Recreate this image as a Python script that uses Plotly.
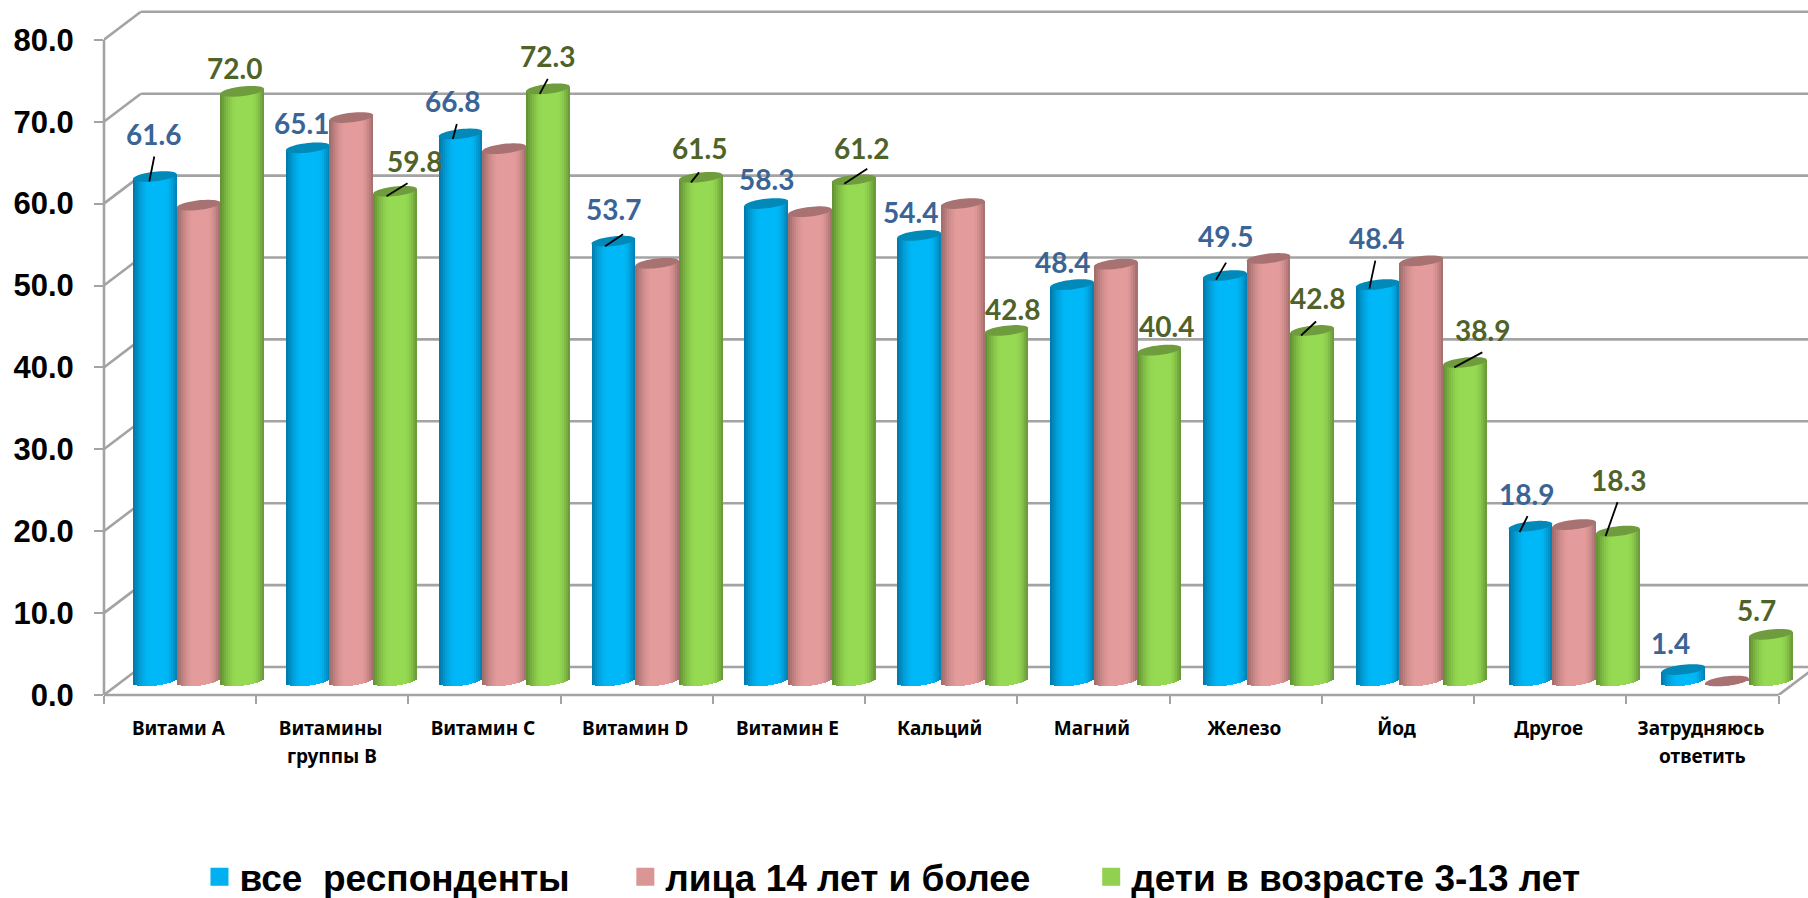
import math
import plotly.graph_objects as go

# ---------- data ----------
categories = ["Витами А", "Витамины", "Витамин С", "Витамин D", "Витамин Е", "Кальций",
              "Магний", "Железо", "Йод", "Другое", "Затрудняюсь"]
second_lines = {1: "группы В", 10: "ответить"}
series_names = ["все  респонденты", "лица 14 лет и более", "дети в возрасте 3-13 лет"]
all_respondents = [61.6, 65.1, 66.8, 53.7, 58.3, 54.4, 48.4, 49.5, 48.4, 18.9, 1.4]
adults_14_plus = [58.1, 68.8, 65.0, 51.0, 57.3, 58.3, 50.9, 51.6, 51.3, 19.1, 0.0]
children_3_13 = [72.0, 59.8, 72.3, 61.5, 61.2, 42.8, 40.4, 42.8, 38.9, 18.3, 5.7]
y_ticks = [0, 10, 20, 30, 40, 50, 60, 70, 80]

# ---------- label placement (pixel offsets from the bar top: label dx, dy, leader or None) ----------
blue_labels = [(-2, -43, (-6, 5, -1, -20)), (-6, -25, None), (-7, -33, (-7, 5, -3, -10)),
               (1, -32, (-7, 5, 11, -7)), (2, -25, None), (-6, -23, None), (-6, -23, None),
               (4, -40, (-5, 4, 5, -13)), (3, -47, (-4, 4, 2, -24)), (1, -32, (-6, 6, 2, -10)),
               (-7, -27, None)]
green_labels = [(-8, -23, None), (20, -30, (-8, 5, 13, -8)), (1, -33, (-7, 5, 1, -10)),
                (0, -29, (-8, 5, 0, -5)), (10, -32, (-7, 4, 16, -11)), (9, -21, None),
                (11, -24, None), (9, -32, (-7, 5, 8, -9)), (22, -32, (-6, 5, 22, -10)),
                (6, -51, (-7, 5, 5, -29)), (-8, -24, None)]

# ---------- geometry ----------
W, H = 1808, 898
PLOT_L, PLOT_B = 103.5, 695.0
CAT_PX = 152.3
BAR_PITCH = 152.9 / CAT_PX       # columns spread very slightly wider than the tick marks
VAL_PX = 8.19
DEPTH_X = 18.5 / CAT_PX          # half of the 3D depth, in category units
DEPTH_V = 14.0 / VAL_PX          # half of the 3D depth, in value units
FIRST_PX = 198.0
BAR_W = 43.7 / CAT_PX
RY = 4.8 / VAL_PX
TILT = 2.4 / VAL_PX
x_range = [(PLOT_L - FIRST_PX) / CAT_PX, (W - FIRST_PX) / CAT_PX]
y_range = [-DEPTH_V, -DEPTH_V + PLOT_B / VAL_PX]
GRID = "#a3a3a3"
GW = 2.6

styles = [
    dict(edgeL=(0, 118, 165), edgeR=(0, 125, 175), mid=(0, 184, 248), cap="#0089b9", flat="#00b0f0"),
    dict(edgeL=(155, 104, 104), edgeR=(160, 108, 108), mid=(228, 155, 155), cap="#a97272", flat="#d99694"),
    dict(edgeL=(96, 140, 50), edgeR=(102, 146, 54), mid=(149, 218, 82), cap="#6f9c3d", flat="#92d050"),
]
values = [all_respondents, adults_14_plus, children_3_13]
idx = list(range(len(categories)))
bar_x = [i * BAR_PITCH for i in idx]


def shade(st, t):
    if t < -0.2:
        f = (t + 1) / 0.8
        a = st["edgeL"]
    elif t > 0.42:
        f = (1 - t) / 0.58
        a = st["edgeR"]
    else:
        return "rgb(%d,%d,%d)" % st["mid"]
    f = math.sin(f * math.pi / 2)
    return "rgb(%d,%d,%d)" % tuple(round(a[k] + (st["mid"][k] - a[k]) * f) for k in range(3))


fig = go.Figure()
N = 22
dt = 2.0 / N
for s, vals in enumerate(values):
    for j in range(N):
        t = -1 + (j + 0.5) * dt
        arc = RY * math.sqrt(max(0.0, 1 - t * t))
        bottom = [-arc + TILT * t for _ in vals]
        tops = [v + TILT * t for v in vals]
        fig.add_trace(go.Bar(
            x=bar_x, y=[a - b for a, b in zip(tops, bottom)], base=bottom,
            width=BAR_W * dt / 2 * 1.04,
            offset=(s - 1) * BAR_W + (t - dt / 2) * BAR_W / 2,
            marker=dict(color=shade(styles[s], t), line=dict(width=0)),
            showlegend=False, hoverinfo="skip"))

legend_ids = ["legend", "legend2", "legend3"]
for s, name in enumerate(series_names):
    fig.add_trace(go.Scatter(x=[None], y=[None], mode="markers", name=name, legend=legend_ids[s],
                             marker=dict(symbol="square", size=16, color=styles[s]["flat"],
                                         line=dict(width=2, color=styles[s]["flat"]))))

shapes = []


def line(x0, y0, x1, y1, xref="x", yref="y", color=GRID, width=GW, layer="below"):
    shapes.append(dict(type="line", x0=x0, y0=y0, x1=x1, y1=y1, xref=xref, yref=yref, layer=layer,
                       line=dict(color=color, width=width)))


cat_edges = [i - 0.5 - DEPTH_X for i in range(len(categories) + 1)]
left_front = cat_edges[0]
left_back = left_front + 2 * DEPTH_X
right_front = cat_edges[-1]
right_back = right_front + 2 * DEPTH_X
for v in y_ticks:
    line(left_back, v + DEPTH_V, right_back + 0.1, v + DEPTH_V)
    line(left_front, v - DEPTH_V, left_back, v + DEPTH_V)
shapes.append(dict(type="line", x0=0, x1=0, xref="paper", y0=y_ticks[0] - DEPTH_V, y1=y_ticks[-1] - DEPTH_V,
                   yref="y", layer="below", line=dict(color=GRID, width=GW)))
shapes.append(dict(type="line", x0=left_front, x1=right_front, xref="x", y0=0, y1=0,
                   yref="paper", layer="below", line=dict(color=GRID, width=GW)))
line(right_front, y_ticks[0] - DEPTH_V, right_back, y_ticks[0] + DEPTH_V)

# cylinder caps
for s, vals in enumerate(values):
    for i, v in enumerate(vals):
        cx = bar_x[i] + (s - 1) * BAR_W
        pts = []
        for k in range(48):
            a = 2 * math.pi * k / 48
            t = math.cos(a)
            pts.append((cx + t * BAR_W / 2, v + TILT * t + RY * math.sin(a)))
        path = "M" + "L".join("%.5f,%.4f" % p for p in pts) + "Z"
        shapes.append(dict(type="path", path=path, xref="x", yref="y", layer="above",
                           fillcolor=styles[s]["cap"], line=dict(width=0)))

annotations = []
label_font = "Lato, Carlito, 'Open Sans', sans-serif"
for s, placement, colour in ((0, blue_labels, "#3a6495"), (2, green_labels, "#4f6228")):
    for i, (dx, dy, leader) in enumerate(placement):
        v = values[s][i]
        cx = i + (s - 1) * 43.5 / CAT_PX + 0.3 / CAT_PX
        annotations.append(dict(x=cx, y=v, xref="x", yref="y", text="%.1f" % v, showarrow=False,
                                xanchor="center", yanchor="middle", xshift=dx, yshift=-dy,
                                font=dict(family=label_font, size=28, color=colour, weight="bold")))
        if leader:
            x0, y0, x1, y1 = leader
            line(cx + x0 / CAT_PX, v - y0 / VAL_PX, cx + x1 / CAT_PX, v - y1 / VAL_PX,
                 color="black", width=1.8, layer="above")

cat_font = dict(family="'Noto Sans', sans-serif", size=19, color="black", weight="bold")
for i, text in second_lines.items():
    annotations.append(dict(x=i - DEPTH_X, xref="x", y=(PLOT_B - 756) / PLOT_B, yref="paper", text=text,
                            showarrow=False, xanchor="center", yanchor="middle", font=cat_font))


def legend_at(px):
    return dict(orientation="h", x=(px - PLOT_L) / (W - PLOT_L), y=-0.262, xanchor="left", yanchor="middle",
                bgcolor="rgba(0,0,0,0)",
                font=dict(family="Liberation Sans", size=37, color="black", weight="bold"))


fig.update_layout(
    width=W, height=H, autosize=False,
    margin=dict(l=PLOT_L, r=0, t=0, b=H - PLOT_B, pad=0, autoexpand=False),
    paper_bgcolor="white", plot_bgcolor="white",
    barmode="overlay", bargap=0,
    shapes=shapes, annotations=annotations,
    font=dict(family="Liberation Sans"),
    xaxis=dict(range=x_range, showgrid=False, zeroline=False, showline=False,
               tickmode="array", tickvals=[i - DEPTH_X - 0.01 for i in idx], ticktext=categories,
               ticks="", tickangle=0, ticklabelstandoff=20,
               tickfont=cat_font,
               minor=dict(tickmode="array", tickvals=cat_edges, ticks="outside", ticklen=8,
                          tickwidth=2, tickcolor=GRID)),
    yaxis=dict(range=y_range, showgrid=False, zeroline=False, showline=False,
               tickmode="array", tickvals=[v - DEPTH_V for v in y_ticks],
               ticktext=["%.1f" % v for v in y_ticks], ticks="outside", ticklen=9, tickwidth=2,
               tickcolor=GRID, ticklabelstandoff=14,
               tickfont=dict(family="Liberation Sans", size=31, color="black", weight="bold")),
    legend=legend_at(199), legend2=legend_at(625), legend3=legend_at(1091),
    showlegend=True,
)

fig.write_html("out.html", config=dict(displayModeBar=False),
               post_script="document.body.style.margin='0';")
